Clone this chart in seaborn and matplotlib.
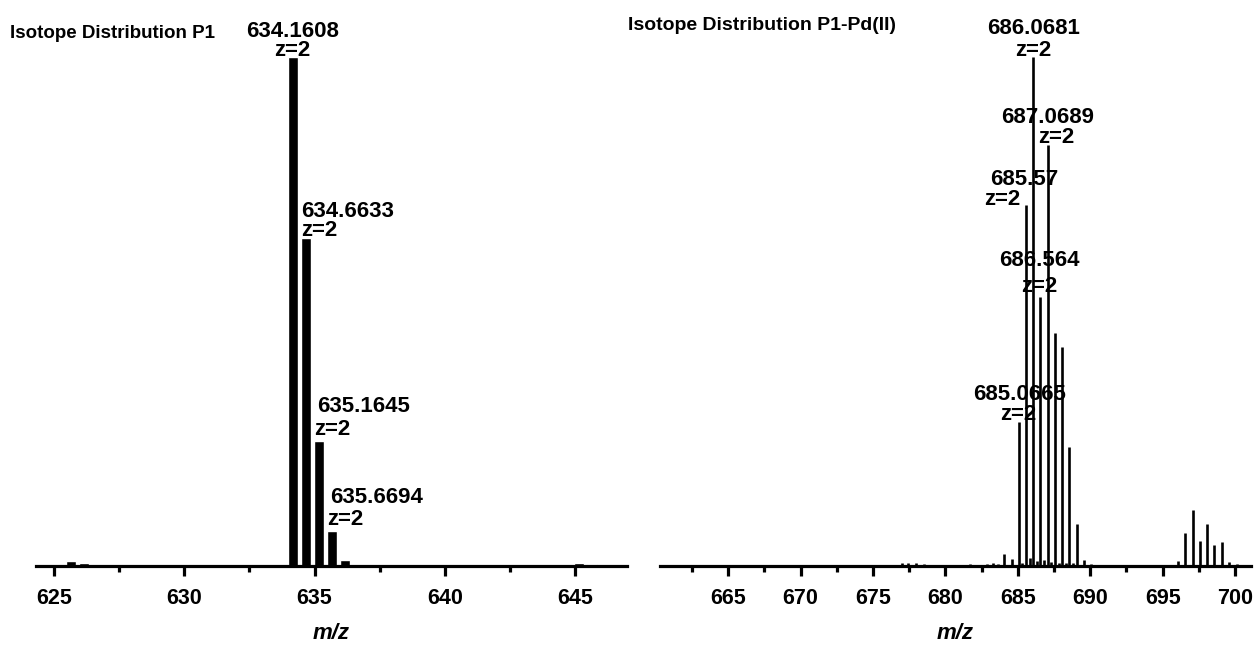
import numpy as np
import pandas as pd
import seaborn as sns
import matplotlib.pyplot as plt
from matplotlib import font_manager
from matplotlib.ticker import MultipleLocator

# P1: m/z and relative intensity (%)
p1_mz = [625.65, 626.15, 626.65, 634.1608, 634.6633, 635.1645, 635.6694, 636.17, 645.15, 645.65]
p1_int = [1.0, 0.6, 0.2, 100.0, 64.4, 24.6, 6.8, 1.1, 0.6, 0.3]

# P1-Pd(II): m/z and relative intensity (%)
pd_mz = [677.0, 677.4, 678.0, 678.5, 681.7, 682.9, 683.3, 683.6,
         684.07, 684.57, 685.0665, 685.32, 685.57, 685.82, 686.0681, 686.32,
         686.564, 686.82, 687.0689, 687.32, 687.57, 687.82, 688.07, 688.32,
         688.57, 688.82, 689.07, 689.57, 690.07,
         696.07, 696.57, 697.07, 697.57, 698.07, 698.57, 699.07, 699.57, 700.1]
pd_int = [0.5, 0.6, 0.5, 0.4, 0.3, 0.4, 0.5, 0.4,
          2.4, 1.4, 28.3, 0.5, 70.9, 1.6, 100.0, 1.0,
          52.8, 1.2, 82.7, 0.8, 45.8, 0.6, 43.0, 0.5,
          23.4, 0.5, 8.3, 1.1, 0.4,
          1.0, 6.5, 11.0, 4.9, 8.3, 4.1, 4.7, 0.8, 0.3]

p1_labels = ["634.1608", "634.6633", "635.1645", "635.6694"]
pd_labels = ["686.0681", "687.0689", "685.57", "686.564", "685.0665"]
charge = "z=2"

W, H = 1254, 652


def fx(px):
    return px / W


def fy(py):
    return 1 - py / H


sns.set_style("ticks")
fam = "Liberation Sans" if any("Liberation Sans" == f.name for f in font_manager.fontManager.ttflist) else "DejaVu Sans"
plt.rcParams["font.family"] = [fam, "DejaVu Sans"]
plt.rcParams["font.weight"] = "bold"
plt.rcParams["axes.labelweight"] = "bold"
plt.rcParams["text.color"] = "black"
plt.rcParams["axes.labelcolor"] = "black"
plt.rcParams["xtick.color"] = "black"
plt.rcParams["xtick.labelcolor"] = "black"

fig = plt.figure(figsize=(W / 100, H / 100), dpi=100)
ax1 = fig.add_axes([fx(36), fy(566), (627 - 36) / W, (566 - 57) / H])
ax2 = fig.add_axes([fx(660), fy(566), (1251 - 660) / W, (566 - 57) / H])

df1 = pd.DataFrame({"mz": p1_mz, "intensity": p1_int})
sns.barplot(data=df1, x="mz", y="intensity", native_scale=True, orient="x",
            width=0.76, color="black", saturation=1, ax=ax1)

df2 = pd.DataFrame({"mz": pd_mz, "intensity": pd_int})
ax2.vlines(df2["mz"], 0, df2["intensity"], color="black", lw=1.9)

ax1.set_xlim(624.3, 647.0)
ax2.set_xlim(660.3, 701.1)

for ax in (ax1, ax2):
    ax.set_ylim(0, 100)
    ax.set_yticks([])
    ax.set_ylabel("")
    sns.despine(ax=ax, left=True)
    ax.spines["bottom"].set_linewidth(2.3)
    ax.spines["bottom"].set_color("black")
    ax.xaxis.set_major_locator(MultipleLocator(5))
    ax.xaxis.set_minor_locator(MultipleLocator(2.5))
    ax.tick_params(axis="x", which="major", direction="out", length=7, width=2.3,
                   pad=9, labelsize=15.5, color="black", labelcolor="black")
    ax.tick_params(axis="x", which="minor", direction="out", length=4, width=2.3, color="black")
    ax.set_xlabel("m/z", fontsize=16, fontstyle="italic", fontweight="bold", labelpad=10, color="black")
    ax.patch.set_alpha(0)

lab_px = 16 * 100 / 72
half_cap = 0.716 * lab_px / 2


def tag(ax, x, top, text, dx, dy, ha):
    ax.annotate(text, xy=(x, top), xytext=(dx, dy - half_cap), textcoords="offset pixels",
                ha=ha, va="baseline", fontsize=16, fontweight="bold", color="black",
                annotation_clip=False)


# label offsets in pixels: (num dx, num dy, num ha, z dx, z dy, z ha)
p1_offsets = [(0, 28, "center", 0, 9, "center"),
              (-5, 29, "left", -5, 10, "left"),
              (-2, 37, "left", -5, 14, "left"),
              (-2, 36, "left", -5, 14, "left")]
pd_offsets = [(0, 31, "center", 0, 9, "center"),
              (0, 30, "center", 8, 10, "center"),
              (-2, 28, "center", -24, 8, "center"),
              (-1, 39, "center", -1, 13, "center"),
              (1, 30, "center", -1, 10, "center")]

for text, off in zip(p1_labels, p1_offsets):
    i = p1_mz.index(float(text))
    tag(ax1, p1_mz[i], p1_int[i], text, off[0], off[1], off[2])
    tag(ax1, p1_mz[i], p1_int[i], charge, off[3], off[4], off[5])

for text, off in zip(pd_labels, pd_offsets):
    i = pd_mz.index(float(text))
    tag(ax2, pd_mz[i], pd_int[i], text, off[0], off[1], off[2])
    tag(ax2, pd_mz[i], pd_int[i], charge, off[3], off[4], off[5])

fig.text(fx(10), fy(33), "Isotope Distribution P1", fontsize=13.5, fontweight="bold",
         va="center", color="black")
fig.text(fx(628), fy(25), "Isotope Distribution P1-Pd(II)", fontsize=14, fontweight="bold",
         va="center", color="black")

fig.savefig("out.png", dpi=100, facecolor="white")
